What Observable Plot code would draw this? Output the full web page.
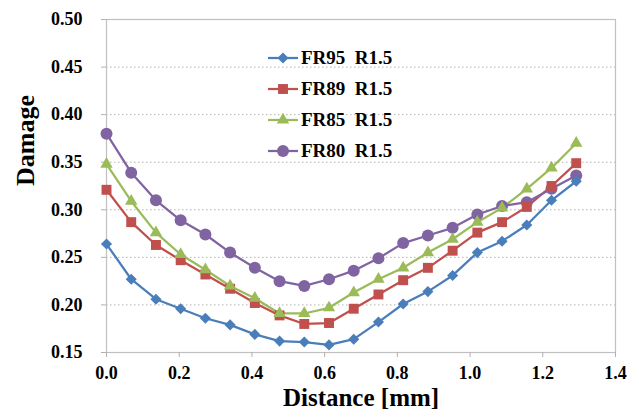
<!DOCTYPE html>
<html>
<head>
<meta charset="utf-8">
<script src="https://cdn.jsdelivr.net/npm/d3@7"></script>
<script src="https://cdn.jsdelivr.net/npm/@observablehq/plot@0.6"></script>
</head>
<body style="margin:0;background:#fff">
<div id="wrap" style="position:relative;width:639px;height:420px;font-family:'Liberation Serif'"><div id="legend" style="position:absolute;left:268px;top:42px;font-weight:bold;font-size:19px;font-family:'Liberation Serif'"></div></div>
<script>
const distance = [0, 0.068, 0.136, 0.204, 0.272, 0.34, 0.408, 0.476, 0.544, 0.612, 0.68, 0.748, 0.816, 0.884, 0.952, 1.02, 1.088, 1.156, 1.224, 1.292];
const FR95 = [0.264, 0.227, 0.206, 0.196, 0.186, 0.179, 0.169, 0.162, 0.161, 0.158, 0.164, 0.182, 0.201, 0.214, 0.231, 0.255, 0.267, 0.284, 0.310, 0.330];
const FR89 = [0.321, 0.287, 0.263, 0.247, 0.232, 0.217, 0.202, 0.189, 0.180, 0.181, 0.196, 0.211, 0.226, 0.239, 0.257, 0.276, 0.287, 0.303, 0.325, 0.349];
const FR85 = [0.348, 0.309, 0.276, 0.253, 0.237, 0.220, 0.207, 0.191, 0.191, 0.197, 0.213, 0.227, 0.239, 0.255, 0.269, 0.287, 0.302, 0.322, 0.344, 0.370];
const FR80 = [0.380, 0.339, 0.310, 0.289, 0.274, 0.255, 0.239, 0.225, 0.220, 0.227, 0.236, 0.249, 0.265, 0.273, 0.281, 0.295, 0.304, 0.308, 0.322, 0.336];
const seriesNames = ["FR95  R1.5", "FR89  R1.5", "FR85  R1.5", "FR80  R1.5"];
const seriesValues = [FR95, FR89, FR85, FR80];
const xTicks = [0, 0.2, 0.4, 0.6, 0.8, 1.0, 1.2, 1.4];
const yTicks = [0.15, 0.20, 0.25, 0.30, 0.35, 0.40, 0.45, 0.50];

const colors = ["#4A7EBB", "#C0504D", "#9BBB59", "#8064A2"];
const symbols = ["diamond2", "square", "triangle", "circle"];
const markerR = [5, 5.6, 4.6, 6];

const data = seriesNames.flatMap((name, s) => seriesValues[s].map((v, i) => ({series: name, s, x: distance[i], y: v})));

const font = "'Liberation Serif'";

const chart = Plot.plot({
  width: 639,
  height: 420,
  marginLeft: 106,
  marginRight: 24,
  marginTop: 19,
  marginBottom: 68,
  style: {fontFamily: font, fontWeight: "bold", fontSize: "18px", color: "#000", background: "#fff"},
  x: {domain: [0, 1.4]},
  y: {domain: [0.15, 0.5]},
  r: {type: "identity"},
  color: {domain: seriesNames, range: colors},
  symbol: {domain: seriesNames, range: symbols},
  marks: [
    Plot.gridY(yTicks.slice(1, -1), {stroke: "#b0b0b0", strokeOpacity: 1, strokeDasharray: "1.5,2.5", strokeWidth: 1}),
    Plot.frame({stroke: "#c0c0c0", strokeWidth: 1.2}),
    Plot.axisY(yTicks, {tickSize: 5, tickPadding: 19, tickFormat: d3.format(".2f"), stroke: "#b0b0b0", fill: "#000", fontSize: 18, fontWeight: "bold", label: null}),
    Plot.axisX(xTicks, {tickSize: 5, tickPadding: 9, tickFormat: d3.format(".1f"), stroke: "#b0b0b0", fill: "#000", fontSize: 18, fontWeight: "bold", label: null}),
    Plot.text(["Damage"], {frameAnchor: "left", dx: -81, rotate: -90, fontSize: 26, fontWeight: "bold", fill: "#000"}),
    Plot.text(["Distance [mm]"], {frameAnchor: "bottom", dy: 53, fontSize: 25, fontWeight: "bold", fill: "#000"}),
    Plot.line(data, {x: "x", y: "y", z: "series", stroke: "series", strokeWidth: 2.25}),
    Plot.dot(data, {x: "x", y: "y", fill: "series", symbol: "series", r: d => markerR[d.s], stroke: "none"})
  ]
});
document.getElementById("wrap").prepend(chart);

// legend
const legend = d3.select("#legend");
seriesNames.forEach((name, i) => {
  const row = legend.append("div")
    .style("height", "31px").style("display", "flex").style("align-items", "center").style("white-space", "pre");
  const svg = row.append("svg").attr("width", 30).attr("height", 16).style("margin-right", "3px");
  svg.append("line").attr("x1", 0).attr("x2", 30).attr("y1", 8).attr("y2", 8).attr("stroke", colors[i]).attr("stroke-width", 2.25);
  const sym = {diamond2: d3.symbolDiamond2, square: d3.symbolSquare, triangle: d3.symbolTriangle, circle: d3.symbolCircle}[symbols[i]];
  svg.append("path").attr("d", d3.symbol(sym, Math.PI * markerR[i] * markerR[i])()).attr("transform", "translate(15,8)").attr("fill", colors[i]);
  row.append("span").text(name);
});
</script>
</body>
</html>
